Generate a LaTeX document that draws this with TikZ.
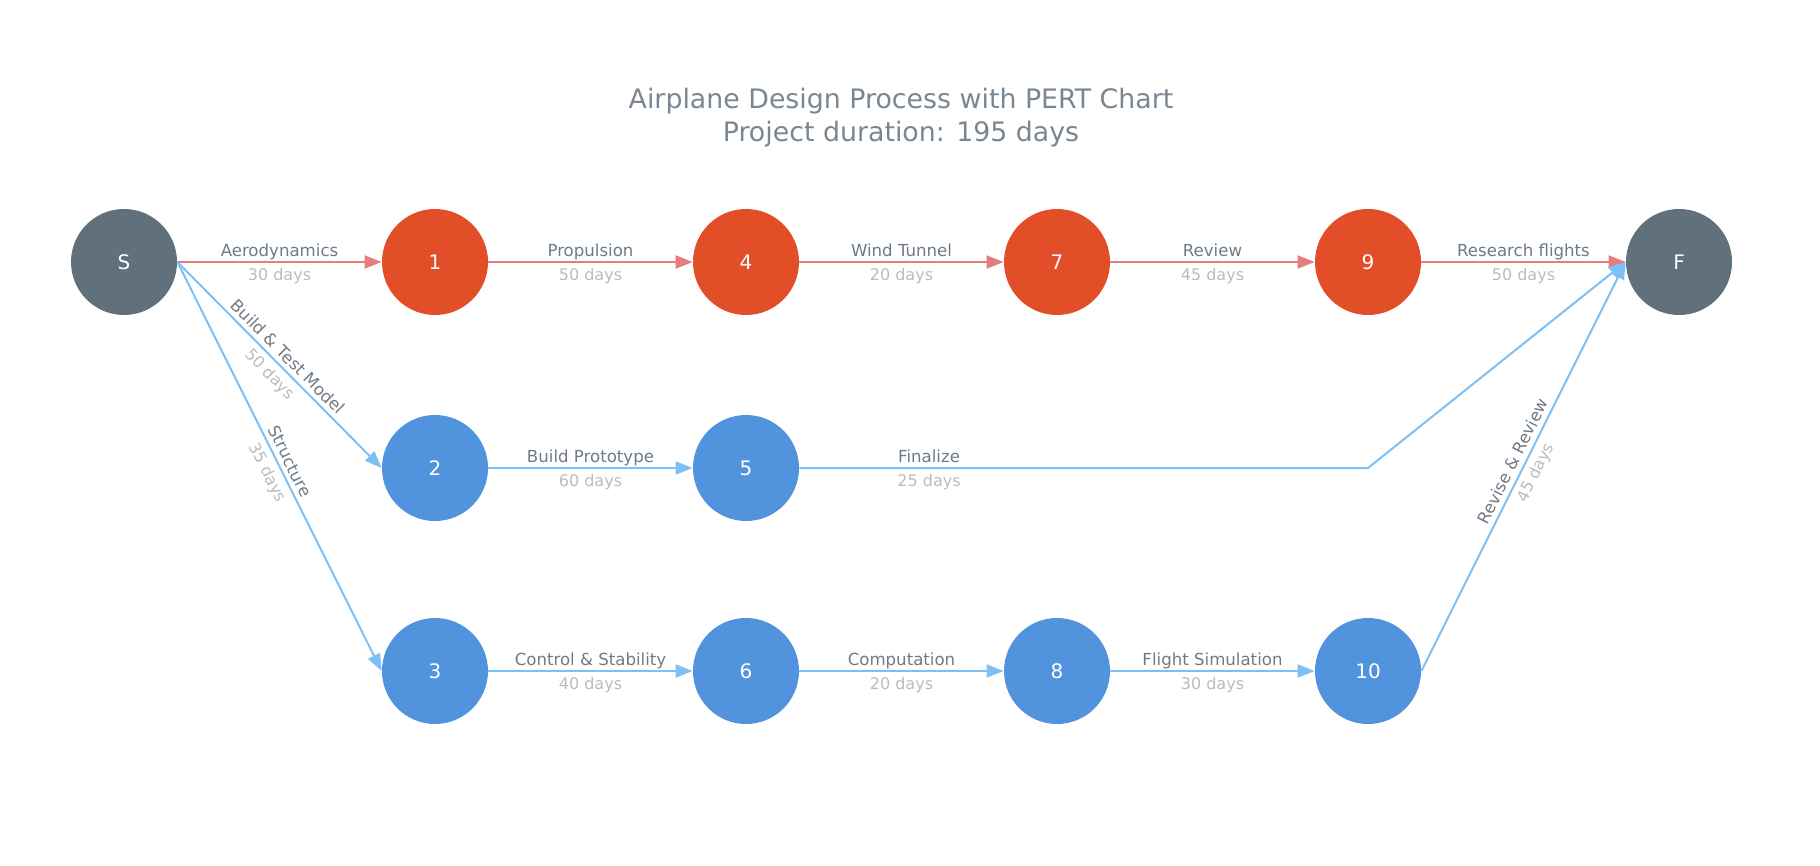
\documentclass[tikz,border=0pt]{standalone}
\usepackage{fontspec}
\setmainfont{DejaVu Sans}
\usetikzlibrary{arrows.meta}
\definecolor{critfill}{RGB}{226,78,39}
\definecolor{stagefill}{RGB}{81,148,221}
\definecolor{endfill}{RGB}{96,113,123}
\definecolor{critline}{RGB}{229,125,125}
\definecolor{stageline}{RGB}{125,192,245}
\definecolor{tasktext}{RGB}{110,122,134}
\definecolor{daytext}{RGB}{185,187,190}
\definecolor{titletext}{RGB}{122,135,146}

\begin{document}
\begin{tikzpicture}[x=0.5pt,y=-0.5pt,
  event/.style={circle, minimum size=53pt, inner sep=0pt, text=white,
    font=\fontsize{10}{12}\selectfont},
  crit/.style={event, fill=critfill},
  plain/.style={event, fill=stagefill},
  ends/.style={event, fill=endfill},
  critedge/.style={draw=critline, line width=1pt, -{Triangle[length=8.5pt,width=6.5pt]}},
  plainedge/.style={draw=stageline, line width=1pt, -{Triangle[length=8.5pt,width=6.5pt]}},
  task/.style={above, inner sep=0.8pt, text height=6.2pt, text depth=1.6pt,
    text=tasktext, font=\fontsize{8.3}{10}\selectfont},
  dur/.style={below, inner sep=2.6pt, text height=6.2pt, text depth=1.6pt,
    text=daytext, font=\fontsize{8}{9.6}\selectfont}]
\useasboundingbox (0,0) rectangle (1820,866);

\node[align=center, text=titletext, font=\fontsize{13.4}{16.4}\selectfont] (title) at (901,118)
  {Airplane Design Process with PERT Chart\\Project duration: 195 days};

% events
\node[ends] (S) at (124,262) {S};
\node[crit] (n1) at (435,262) {1};
\node[crit] (n4) at (746,262) {4};
\node[crit] (n7) at (1057,262) {7};
\node[crit] (n9) at (1368,262) {9};
\node[ends] (F) at (1679,262) {F};
\node[plain] (n2) at (435,468) {2};
\node[plain] (n5) at (746,468) {5};
\node[plain] (n3) at (435,671) {3};
\node[plain] (n6) at (746,671) {6};
\node[plain] (n8) at (1057,671) {8};
\node[plain] (n10) at (1368,671) {10};
\coordinate (bend) at (1368,468);

% critical path
\draw[critedge] (S.east) -- node[task]{Aerodynamics} node[dur]{30 days} (n1.west);
\draw[critedge] (n1.east) -- node[task]{Propulsion} node[dur]{50 days} (n4.west);
\draw[critedge] (n4.east) -- node[task]{Wind Tunnel} node[dur]{20 days} (n7.west);
\draw[critedge] (n7.east) -- node[task]{Review} node[dur]{45 days} (n9.west);
\draw[critedge] (n9.east) -- node[task]{Research flights} node[dur]{50 days} (F.west);

% other tasks
\draw[plainedge] (S.east) -- node[task, sloped]{Build \& Test Model} node[dur, sloped]{50 days} (n2.west);
\draw[plainedge] (S.east) -- node[task, sloped]{Structure} node[dur, sloped]{35 days} (n3.west);
\draw[plainedge] (n2.east) -- node[task]{Build Prototype} node[dur]{60 days} (n5.west);
\draw[plainedge] (n5.east) -- node[task, pos=0.228]{Finalize} node[dur, pos=0.228]{25 days} (bend) -- (F.west);
\draw[plainedge] (n3.east) -- node[task]{Control \& Stability} node[dur]{40 days} (n6.west);
\draw[plainedge] (n6.east) -- node[task]{Computation} node[dur]{20 days} (n8.west);
\draw[plainedge] (n8.east) -- node[task]{Flight Simulation} node[dur]{30 days} (n10.west);
\draw[plainedge] (n10.east) -- node[task, sloped]{Revise \& Review} node[dur, sloped]{45 days} (F.west);
\end{tikzpicture}
\end{document}
